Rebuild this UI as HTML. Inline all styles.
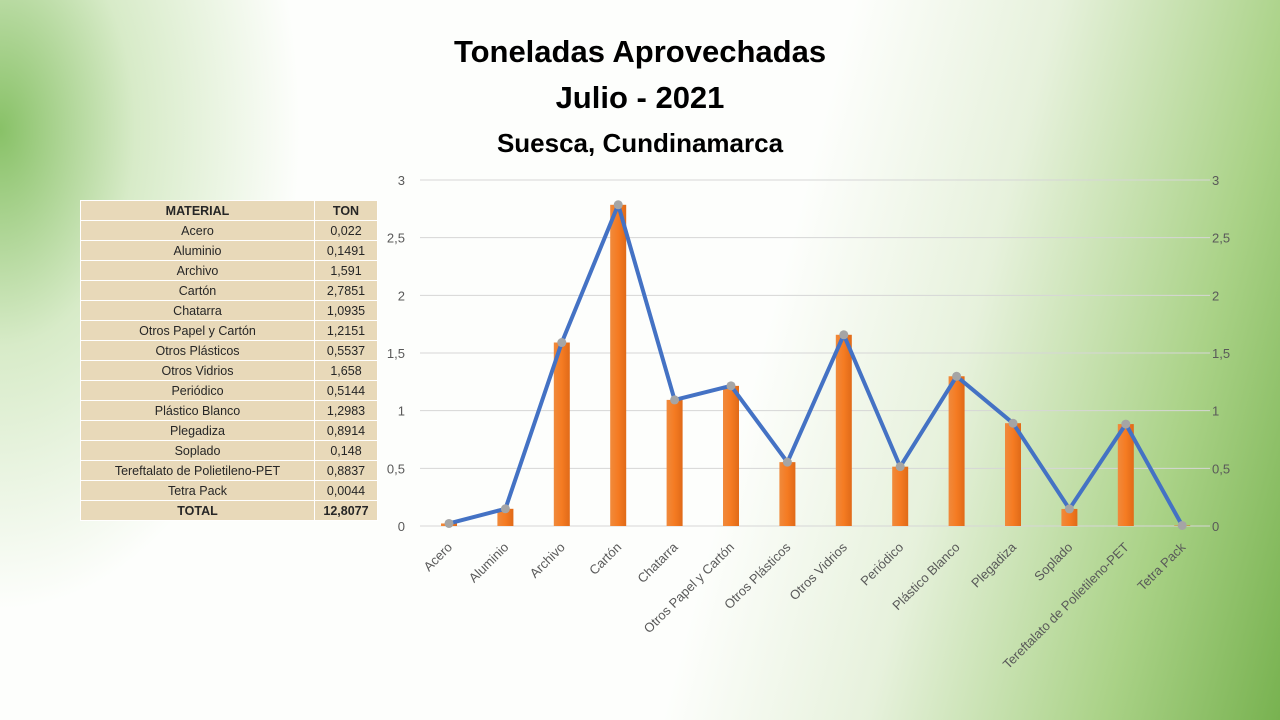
<!DOCTYPE html>
<html><head><meta charset="utf-8"><style>
body{margin:0;width:1280px;height:720px;overflow:hidden;font-family:"Liberation Sans",sans-serif;
background:
radial-gradient(ellipse 300px 480px at 0px 130px,rgba(130,190,95,0.95),rgba(190,222,165,0.6) 45%,rgba(255,255,255,0) 100%),
linear-gradient(105deg,rgba(255,255,255,0) 0%,rgba(255,255,255,0) 58%,rgba(225,238,212,0.8) 72%,rgba(170,210,135,1) 88%,rgba(120,178,80,1) 100%),
#fdfefc;}
.t{position:absolute;left:0;width:1280px;text-align:center;font-weight:bold;color:#000}
table{position:absolute;left:80px;top:200px;border-collapse:collapse;font-size:12.5px;background:#e8d9b9;}
td{border:1px solid #fff;height:19px;padding:0;text-align:center;color:#262626}
td:first-child{width:233px}td:last-child{width:62px}
</style></head><body>
<div class="t" style="top:34px;font-size:31px">Toneladas Aprovechadas</div>
<div class="t" style="top:80px;font-size:31px">Julio - 2021</div>
<div class="t" style="top:128px;font-size:26px">Suesca, Cundinamarca</div>
<table>
<tr><td><b>MATERIAL</b></td><td><b>TON</b></td></tr>
<tr><td>Acero</td><td>0,022</td></tr>
<tr><td>Aluminio</td><td>0,1491</td></tr>
<tr><td>Archivo</td><td>1,591</td></tr>
<tr><td>Cartón</td><td>2,7851</td></tr>
<tr><td>Chatarra</td><td>1,0935</td></tr>
<tr><td>Otros Papel y Cartón</td><td>1,2151</td></tr>
<tr><td>Otros Plásticos</td><td>0,5537</td></tr>
<tr><td>Otros Vidrios</td><td>1,658</td></tr>
<tr><td>Periódico</td><td>0,5144</td></tr>
<tr><td>Plástico Blanco</td><td>1,2983</td></tr>
<tr><td>Plegadiza</td><td>0,8914</td></tr>
<tr><td>Soplado</td><td>0,148</td></tr>
<tr><td>Tereftalato de Polietileno-PET</td><td>0,8837</td></tr>
<tr><td>Tetra Pack</td><td>0,0044</td></tr>
<tr><td><b>TOTAL</b></td><td><b>12,8077</b></td></tr>
</table>
<svg width="1280" height="720" style="position:absolute;left:0;top:0" font-family="Liberation Sans, sans-serif">
<defs><linearGradient id="o" x1="0" x2="1"><stop offset="0" stop-color="#f08a3c"/><stop offset="0.5" stop-color="#f57b22"/><stop offset="1" stop-color="#e06a18"/></linearGradient></defs>
<g id="g"></g>
</svg>
<script>
const v=[0.022,0.1491,1.591,2.7851,1.0935,1.2151,0.5537,1.658,0.5144,1.2983,0.8914,0.148,0.8837,0.0044];
const n=["Acero","Aluminio","Archivo","Cartón","Chatarra","Otros Papel y Cartón","Otros Plásticos","Otros Vidrios","Periódico","Plástico Blanco","Plegadiza","Soplado","Tereftalato de Polietileno-PET","Tetra Pack"];
let s="";const y=t=>526-t*115.33,x=i=>449+i*56.4;
for(let k=0;k<=6;k++){let t=k*0.5,yy=y(t);s+=`<line x1="420" x2="1210" y1="${yy}" y2="${yy}" stroke="#d6d6d6"/>`;
let l=String(t).replace(".",",");s+=`<text x="405" y="${yy+5}" font-size="13" fill="#595959" text-anchor="end">${l}</text><text x="1212" y="${yy+5}" font-size="13" fill="#595959">${l}</text>`;}
v.forEach((d,i)=>{s+=`<rect x="${x(i)-8}" y="${y(d)}" width="16" height="${526-y(d)}" fill="url(#o)"/>`;
s+=`<text transform="translate(${x(i)+4},548) rotate(-45)" font-size="13" fill="#595959" text-anchor="end">${n[i]}</text>`;});
s+=`<polyline fill="none" stroke="#4472c4" stroke-width="4" stroke-linejoin="round" points="${v.map((d,i)=>x(i)+","+y(d)).join(" ")}"/>`;
v.forEach((d,i)=>{s+=`<circle cx="${x(i)}" cy="${y(d)}" r="4.5" fill="#a5a5a5"/>`});
document.getElementById("g").innerHTML=s;
</script>
</body></html>
